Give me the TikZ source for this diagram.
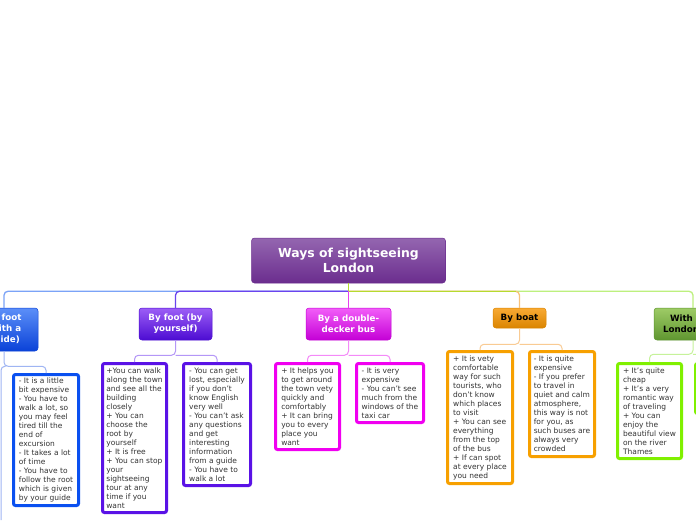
\documentclass[tikz,border=0pt]{standalone}
\usepackage{fontspec}
\setmainfont{DejaVu Sans}
\definecolor{rootT}{HTML}{9466B0}\definecolor{rootB}{HTML}{6B2D8E}
\definecolor{gT}{HTML}{5C8FF8}\definecolor{gB}{HTML}{0A42D8}
\definecolor{pT}{HTML}{9C5EF6}\definecolor{pB}{HTML}{4C0CD2}
\definecolor{mT}{HTML}{F25EF8}\definecolor{mB}{HTML}{C400D6}
\definecolor{oT}{HTML}{F8AA34}\definecolor{oB}{HTML}{DA8400}
\definecolor{grT}{HTML}{9ECB66}\definecolor{grB}{HTML}{5F9630}
\definecolor{cBlue}{HTML}{7BA3F7}\definecolor{cPurp}{HTML}{6A44EE}
\definecolor{cYG}{HTML}{B6DA2E}\definecolor{cLG}{HTML}{BDF07E}
\definecolor{cOr}{HTML}{F8C27A}\definecolor{cMag}{HTML}{E640F0}
\definecolor{sBlue}{HTML}{9FB5F3}\definecolor{sPurp}{HTML}{B497F7}
\definecolor{sMag}{HTML}{F48AF8}\definecolor{sOr}{HTML}{F9CB93}
\definecolor{sGr}{HTML}{C6F29A}
\definecolor{lBlue}{HTML}{0A50F0}\definecolor{lPurp}{HTML}{5A12E6}
\definecolor{lMag}{HTML}{F000F0}\definecolor{lOr}{HTML}{F7A000}
\definecolor{lLime}{HTML}{80F000}
\definecolor{txt}{HTML}{333333}
\begin{document}
\begin{tikzpicture}[x=1pt,y=-1pt,
  hdr/.style={rounded corners=3pt, align=center, inner sep=0pt, line width=0.5pt,
    font=\fontsize{8.7}{11}\selectfont\bfseries},
  leaf/.style={draw, line width=3pt, rounded corners=2pt, fill=white, align=left,
    inner sep=0pt, text=txt, font=\fontsize{7.5}{9}\selectfont},
  conn/.style={line width=1.3pt, rounded corners=4pt},
  sub/.style={line width=1pt, rounded corners=4pt}]
\clip (0,0) rectangle (696,520);
\fill[white] (0,0) rectangle (696,520);

% main nodes
\node[hdr, minimum width=194pt, minimum height=45pt, top color=rootT, bottom color=rootB,
  draw=rootB, text=white, font=\fontsize{12.4}{14.5}\selectfont\bfseries]
  (root) at (348.5,260.5) {Ways of sightseeing\\London};
\node[hdr, minimum width=68pt, minimum height=43pt, top color=gT, bottom color=gB,
  draw=gB, text=white] (guide) at (4,329.5) {By foot\\(with a\\guide)};
\node[hdr, minimum width=73pt, minimum height=32pt, top color=pT, bottom color=pB,
  draw=pB, text=white] (self) at (175.5,324) {By foot (by\\yourself)};
\node[hdr, minimum width=85pt, minimum height=32pt, top color=mT, bottom color=mB,
  draw=mB, text=white] (bus) at (348.5,324) {By a double-\\decker bus};
\node[hdr, minimum width=53pt, minimum height=20pt, top color=oT, bottom color=oB,
  draw=oB, text=black] (boat) at (519.5,318) {By boat};
\node[hdr, minimum width=78pt, minimum height=32pt, top color=grT, bottom color=grB,
  draw=grB, text=black, align=left, text width=60pt] (river) at (693,324)
  {\hspace*{7pt}With\\London};

% leaves
\node[leaf, draw=lBlue, minimum width=65pt, minimum height=131pt] (gA) at (46,440)
 {- It is a little\\bit expensive\\- You have to\\walk a lot, so\\you may feel\\tired till the\\end of\\excursion\\- It takes a lot\\of time\\- You have to\\follow the root\\which is given\\by your guide};
\node[leaf, draw=lPurp, minimum width=64pt, minimum height=149pt] (sA) at (134.5,438)
 {+You can walk\\along the town\\and see all the\\building\\closely\\+ You can\\choose the\\root by\\yourself\\+ It is free\\+ You can stop\\your\\sightseeing\\tour at any\\time if you\\want};
\node[leaf, draw=lPurp, minimum width=67pt, minimum height=122pt] (sB) at (217,424.5)
 {- You can get\\lost, especially\\if you don't\\know English\\very well\\- You can't ask\\any questions\\and get\\interesting\\information\\from a guide\\- You have to\\walk a lot};
\node[leaf, draw=lMag, minimum width=64pt, minimum height=86pt] (bC) at (307.5,406.5)
 {+ It helps you\\to get around\\the town vety\\quickly and\\comfortably\\+ It can bring\\you to every\\place you\\want};
\node[leaf, draw=lMag, minimum width=67pt, minimum height=59pt] (bD) at (390,393)
 {- It is very\\expensive\\- You can't see\\much from the\\windows of the\\taxi car};
\node[leaf, draw=lOr, minimum width=65pt, minimum height=132pt] (oE) at (480,417.5)
 {+ It is vety\\comfortable\\way for such\\tourists, who\\don't know\\which places\\to visit\\+ You can see\\everything\\from the top\\of the bus\\+ If can spot\\at every place\\you need};
\node[leaf, draw=lOr, minimum width=65pt, minimum height=105pt] (oF) at (562,404)
 {- It is quite\\expensive\\- If you prefer\\to travel in\\quiet and calm\\atmosphere,\\this way is not\\for you, as\\such buses are\\always very\\crowded};
\node[leaf, draw=lLime, minimum width=64pt, minimum height=95pt] (rG) at (649.5,411)
 {+ It's quite\\cheap\\+ It's a very\\romantic way\\of traveling\\+ You can\\enjoy the\\beautiful view\\on the river\\Thames};
\node[leaf, draw=lLime, minimum width=70pt, minimum height=50pt] (rH) at (730.5,388.5) {};

% main connectors
\path (root.south) ++(0,8) coordinate (hub);
\path (boat.north |- hub) ++(-4,0) coordinate (bh);
\draw[conn, cBlue] (hub) -| (guide.north);
\draw[conn, cPurp] (hub) -| (self.north);
\draw[conn, cLG] (hub) -| (river.north);
\draw[conn, cOr] (hub) -| (boat.north);
\draw[conn, cYG] (hub) -- (bh);
\draw[conn, cYG] (root.south) -- (hub);
\draw[conn, cMag] (hub) -- (bus.north);

% sub connectors
\coordinate (gx) at (1,520);
\draw[sub, sBlue] (guide.south) -- ++(0,15) coordinate (gbar) -| (gA.north);
\draw[sub, sBlue] (gbar) -| (gx);
\draw[sub, sPurp] (self.south) -- ++(0,15) coordinate (sbar) -| (sA.north);
\draw[sub, sPurp] (sbar) -| (sB.north);
\draw[sub, sMag] (bus.south) -- ++(0,15) coordinate (mbar) -| (bC.north);
\draw[sub, sMag] (mbar) -| (bD.north);
\draw[sub, sOr] (boat.south) -- ++(0,16) coordinate (obar) -| (oE.north);
\draw[sub, sOr] (obar) -| (oF.north);
\draw[sub, sGr] (river.south) -- ++(0,14) coordinate (rbar) -| (rG.north);
\draw[sub, sGr] (rbar) -| (rH.north);
\end{tikzpicture}
\end{document}
